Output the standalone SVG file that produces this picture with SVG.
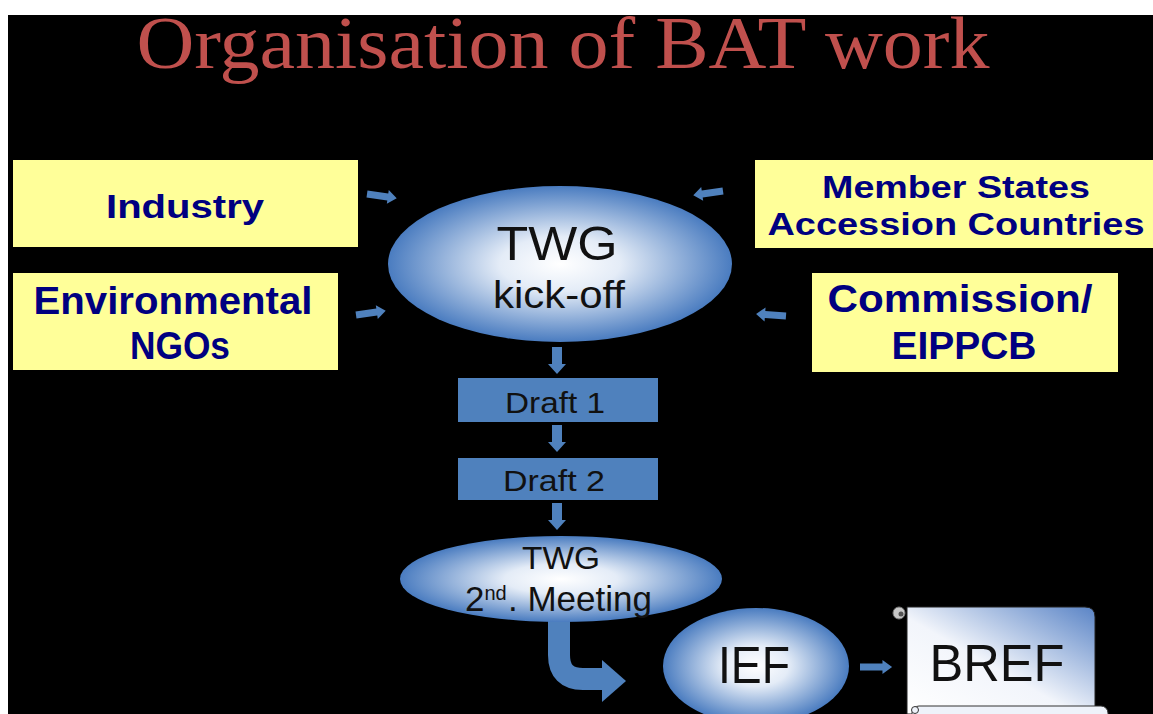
<svg xmlns="http://www.w3.org/2000/svg" xmlns:xlink="http://www.w3.org/1999/xlink" width="1153" height="714" viewBox="0 0 1153 714">
<style>
.box{fill:#ffff99;}
.lbl{font-family:"Liberation Sans",Arial,sans-serif;font-weight:bold;fill:#000080;text-anchor:middle;}
.dk{font-family:"Liberation Sans",Arial,sans-serif;fill:#111;text-anchor:middle;}
.dr{fill:#4f81bd;}
.arr{fill:#4f81bd;}
</style>
<defs>
<radialGradient id="eg" cx="0.5" cy="0.5" r="0.5">
<stop offset="0" stop-color="#ffffff"/>
<stop offset="0.35" stop-color="#e4ecf7"/>
<stop offset="1" stop-color="#4a7cc0"/>
</radialGradient>
<linearGradient id="bg" x1="0" y1="1" x2="1" y2="0">
<stop offset="0" stop-color="#ffffff"/>
<stop offset="0.45" stop-color="#f2f5fb"/>
<stop offset="1" stop-color="#5a84c6"/>
</linearGradient>
<path id="sa" d="M0,-3.5 H21 V-7 L30,0 L21,7 V3.5 H0 Z"/>
<path id="da" d="M-5,0 V17 H-9 L0,27 L9,17 H5 V0 Z"/>
</defs>
<rect x="0" y="0" width="1153" height="714" fill="#ffffff"/>
<rect x="8" y="15" width="1145" height="699" fill="#000000"/>
<text x="563" y="68" font-family="'Liberation Serif','Times New Roman',serif" font-size="74" fill="#c0504d" text-anchor="middle" textLength="853" lengthAdjust="spacingAndGlyphs">Organisation of BAT work</text>

<g id="connectors">
<use href="#sa" class="arr" transform="translate(367,194) rotate(8)"/>
<use href="#sa" class="arr" transform="translate(356,315) rotate(-8)"/>
<use href="#sa" class="arr" transform="translate(723,191) rotate(172)"/>
<use href="#sa" class="arr" transform="translate(786,316) rotate(184)"/>
<use href="#da" class="arr" transform="translate(557,347)"/>
<use href="#da" class="arr" transform="translate(557,425)"/>
<use href="#da" class="arr" transform="translate(557,503)"/>
<path d="M559,620 V655 Q559,679 583,679 H604" fill="none" stroke="#4f81bd" stroke-width="22"/>
<polygon points="602,660 626,681 602,702" fill="#4f81bd"/>
<use href="#sa" class="arr" transform="translate(860,667) scale(1.07,1)"/>
</g>

<g id="industry">
<rect class="box" x="13" y="160" width="345" height="87"/>
<text class="lbl" x="185" y="218" font-size="34" textLength="158" lengthAdjust="spacingAndGlyphs">Industry</text>
</g>
<g id="ngos">
<rect class="box" x="13" y="273" width="325" height="97"/>
<text class="lbl" x="173" y="314" font-size="38" textLength="279" lengthAdjust="spacingAndGlyphs">Environmental</text>
<text class="lbl" x="180" y="359" font-size="38" textLength="100" lengthAdjust="spacingAndGlyphs">NGOs</text>
</g>
<g id="member-states">
<rect class="box" x="755" y="160" width="398" height="88"/>
<text class="lbl" x="956" y="198" font-size="32" textLength="268" lengthAdjust="spacingAndGlyphs">Member States</text>
<text class="lbl" x="956" y="235" font-size="32" textLength="377" lengthAdjust="spacingAndGlyphs">Accession Countries</text>
</g>
<g id="commission">
<rect class="box" x="812" y="273" width="306" height="99"/>
<text class="lbl" x="960" y="312" font-size="39" textLength="265" lengthAdjust="spacingAndGlyphs">Commission/</text>
<text class="lbl" x="964" y="359" font-size="39" textLength="145" lengthAdjust="spacingAndGlyphs">EIPPCB</text>
</g>
<g id="twg-kickoff">
<ellipse cx="560" cy="264" rx="172" ry="78" fill="url(#eg)"/>
<text class="dk" x="557" y="260" font-size="48" textLength="121" lengthAdjust="spacingAndGlyphs">TWG</text>
<text class="dk" x="559" y="308" font-size="39" textLength="132" lengthAdjust="spacingAndGlyphs">kick-off</text>
</g>
<g id="draft1">
<rect class="dr" x="458" y="378" width="200" height="44"/>
<text class="dk" x="555" y="413" font-size="30" fill="#1a1f2e" textLength="100" lengthAdjust="spacingAndGlyphs">Draft 1</text>
</g>
<g id="draft2">
<rect class="dr" x="458" y="458" width="200" height="42"/>
<text class="dk" x="554" y="491" font-size="30" fill="#1a1f2e" textLength="102" lengthAdjust="spacingAndGlyphs">Draft 2</text>
</g>
<g id="twg-2nd">
<ellipse cx="561" cy="579" rx="161" ry="43" fill="url(#eg)"/>
<text class="dk" x="561" y="569" font-size="32" textLength="78" lengthAdjust="spacingAndGlyphs">TWG</text>
<text class="dk" x="465" y="611" font-size="35" style="text-anchor:start">2<tspan font-size="20" baseline-shift="11">nd</tspan><tspan x="508">. Meeting</tspan></text>
</g>
<g id="ief">
<ellipse cx="756" cy="666" rx="93" ry="58" fill="url(#eg)"/>
<text class="dk" x="754" y="683" font-size="52" textLength="72" lengthAdjust="spacingAndGlyphs">IEF</text>
</g>
<g id="bref">
<path d="M907,607 H1085 Q1095,607 1095,617 V714 H907 Z" fill="url(#bg)" stroke="#222" stroke-width="1"/>
<circle cx="899" cy="613" r="6" fill="#c8c8c8" stroke="#777" stroke-width="1"/>
<circle cx="901" cy="614" r="2.5" fill="#555"/>
<rect x="912" y="706" width="196" height="20" rx="7" fill="#eef2fa" stroke="#333" stroke-width="1"/>
<circle cx="915" cy="710" r="3.5" fill="#eef2fa" stroke="#333" stroke-width="1"/>
<text class="dk" x="997" y="681" font-size="52" textLength="135" lengthAdjust="spacingAndGlyphs">BREF</text>
</g>
</svg>
